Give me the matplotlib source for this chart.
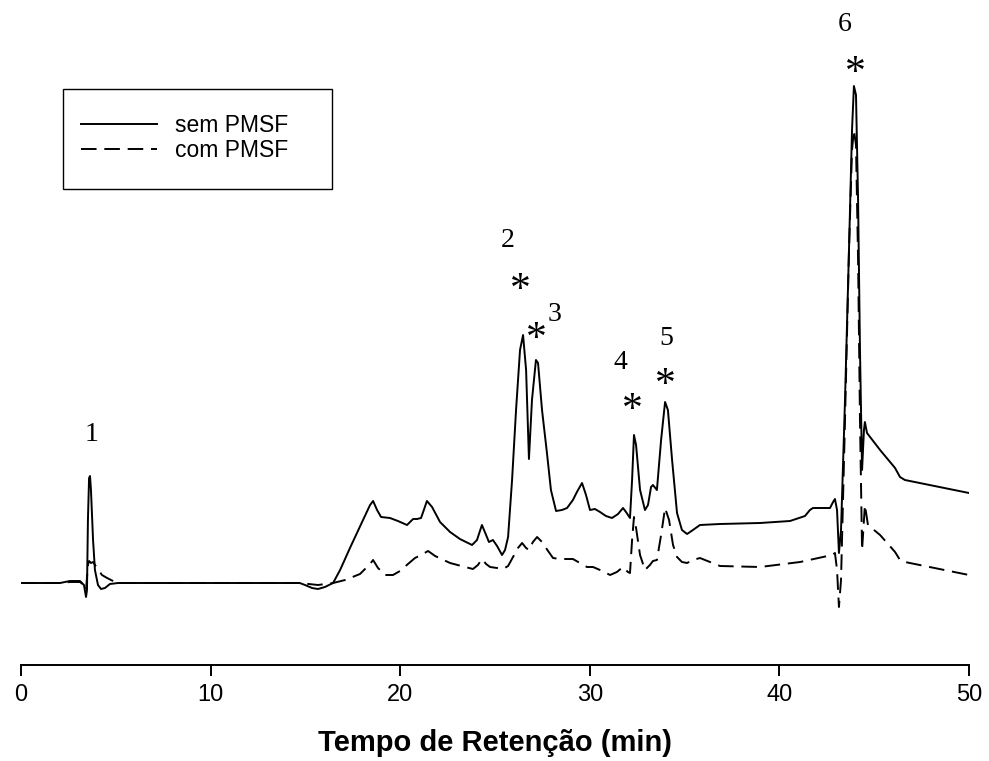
import numpy as np
import matplotlib
matplotlib.use("Agg")
import matplotlib.pyplot as plt
from matplotlib.patches import Rectangle

# ---------------- data ----------------
# retention time (min) and detector response (arbitrary units) - sem PMSF
time_sem = [0.00, 2.06, 2.58, 3.11, 3.32, 3.43, 3.48, 3.53, 3.59, 3.64, 3.69, 3.80, 3.90,
            4.06, 4.22, 4.43, 4.69, 5.12, 14.70, 14.98, 15.35, 15.66, 16.03, 16.46, 16.83,
            17.35, 17.99, 18.41, 18.57, 18.78, 18.99, 19.46, 19.88, 20.36, 20.68, 20.89,
            21.10, 21.41, 21.68, 22.10, 22.63, 23.15, 23.79, 24.05, 24.31, 24.53, 24.68,
            24.89, 25.11, 25.37, 25.53, 25.69, 25.90, 26.11, 26.32, 26.48, 26.64, 26.79,
            26.95, 27.16, 27.27, 27.48, 27.74, 27.95, 28.22, 28.53, 28.80, 29.11, 29.32,
            29.59, 29.80, 30.01, 30.27, 30.54, 30.85, 31.17, 31.49, 31.75, 31.91, 32.12,
            32.23, 32.33, 32.44, 32.65, 32.91, 33.07, 33.23, 33.33, 33.54, 33.76, 33.97,
            34.12, 34.34, 34.60, 34.86, 35.13, 35.44, 35.81, 36.87, 38.98, 40.56, 41.35,
            41.61, 41.77, 42.67, 42.83, 42.93, 43.04, 43.14, 43.25, 43.46, 43.67, 43.83,
            43.93, 44.04, 44.15, 44.25, 44.36, 44.46, 44.51, 44.62, 45.31, 46.10, 46.36,
            46.62, 50.00]
abs_sem = [0, 0, 2, 2, -2, -14, -7, 63, 105, 107, 93, 43, 13,
           -2, -6, -5, -1, 0, 0, -2, -5, -6, -4, 0, 13,
           35, 61, 78, 82, 73, 66, 65, 62, 58, 64, 64,
           65, 82, 76, 61, 51, 44, 38, 43, 58, 48, 41,
           43, 37, 28, 33, 46, 103, 173, 233, 248, 213, 124,
           183, 223, 220, 173, 130, 93, 72, 73, 75, 83, 91,
           100, 88, 73, 74, 71, 67, 65, 69, 75, 71, 65,
           103, 148, 138, 93, 73, 78, 96, 98, 93, 143, 181,
           173, 123, 70, 53, 49, 53, 58, 59, 60, 62, 67,
           73, 75, 75, 81, 84, 73, 30, 53, 183, 333, 453,
           497, 488, 383, 233, 113, 153, 161, 150, 133, 115, 106,
           103, 90]

# retention time (min) and detector response (arbitrary units) - com PMSF
time_com = [0.00, 2.06, 2.58, 3.11, 3.32, 3.43, 3.53, 3.59, 3.69, 3.80, 4.01, 4.27, 4.54,
            4.96, 5.22, 14.70, 15.66, 16.46, 17.09, 17.88, 18.41, 18.57, 18.83, 19.20,
            19.62, 19.99, 20.41, 20.78, 21.10, 21.47, 21.84, 22.63, 23.42, 23.84, 24.10,
            24.31, 24.53, 24.74, 25.11, 25.42, 25.69, 25.95, 26.21, 26.43, 26.64, 26.79,
            27.00, 27.22, 27.48, 27.80, 28.06, 28.43, 28.85, 29.11, 29.48, 29.85, 30.17,
            30.54, 31.07, 31.43, 31.75, 32.01, 32.12, 32.23, 32.33, 32.44, 32.65, 32.91,
            33.17, 33.33, 33.54, 33.76, 33.97, 34.18, 34.39, 34.60, 34.86, 35.13, 35.44,
            35.81, 36.87, 38.98, 41.09, 42.78, 42.93, 43.04, 43.14, 43.25, 43.46, 43.67,
            43.83, 43.93, 44.04, 44.15, 44.25, 44.36, 44.51, 44.67, 45.31, 46.10, 46.36,
            46.62, 50.00]
abs_com = [0, 0, 1, 1, -2, -7, 18, 22, 20, 21, 15, 8, 5,
           1, 0, 0, -2, 0, 3, 9, 19, 23, 15, 8,
           8, 12, 19, 25, 28, 32, 27, 20, 16, 14, 18,
           24, 19, 16, 15, 14, 17, 26, 35, 40, 35, 33,
           41, 46, 41, 32, 25, 24, 24, 24, 20, 16, 16,
           13, 8, 11, 16, 11, 10, 43, 66, 55, 28, 13,
           18, 22, 23, 48, 75, 63, 38, 26, 21, 20, 23,
           25, 17, 16, 21, 28, 30, 13, -24, 3, 163, 333,
           433, 453, 438, 323, 163, 33, 78, 58, 48, 31, 23,
           21, 8]

series_labels = ["sem PMSF", "com PMSF"]
x_ticks = [0, 10, 20, 30, 40, 50]
x_label = "Tempo de Retenção (min)"

# peak annotations: label, approximate retention time, asterisk shown
peak_labels = ["1", "2", "3", "4", "5", "6"]
peak_times = [3.6, 26.5, 27.2, 32.3, 34.0, 43.9]
peak_marked = [False, True, True, True, True, True]

# ---------------- figure ----------------
W, H = 989, 761
fig = plt.figure(figsize=(W / 100, H / 100), dpi=100)
ax = fig.add_axes([21 / W, (H - 665) / H, 948 / W, 665 / H])

ax.plot(time_sem, abs_sem, color="black", lw=1.4, solid_joinstyle="round",
        label=series_labels[0])
ax.plot(time_com, abs_com, color="black", lw=1.4, linestyle=(0, (8, 4)),
        label=series_labels[1])

ax.set_xlim(0, 50)
ax.set_ylim(-82, 583)
for s in ["left", "right", "top"]:
    ax.spines[s].set_visible(False)
ax.spines["bottom"].set_linewidth(1.4)
ax.set_yticks([])
ax.set_xticks(x_ticks)
ax.tick_params(axis="x", direction="out", length=8, width=1.4, pad=6,
               labelsize=17)
for lab in ax.get_xticklabels():
    lab.set_fontfamily("Liberation Sans")
ax.set_xlabel(x_label, fontsize=21, fontweight="bold", family="Liberation Sans",
              labelpad=16)

# peak labels (offsets in points relative to the peak top)
star_off = {"2": (-2, 35), "3": (0, 18), "4": (-1, 21), "5": (0, 15), "6": (1, 12)}
num_off = {"1": (1, 30), "2": (-11, 68), "3": (13, 33), "4": (-10, 52),
           "5": (1, 46), "6": (-7, 44)}
t_arr = np.array(time_sem)
a_arr = np.array(abs_sem)
for lab, pt, mk in zip(peak_labels, peak_times, peak_marked):
    win = (t_arr > pt - 0.3) & (t_arr < pt + 0.3)
    idx = np.argmax(np.where(win, a_arr, -np.inf))
    px, py = t_arr[idx], a_arr[idx]
    ax.annotate(lab, (px, py), xytext=num_off[lab], textcoords="offset points",
                ha="center", va="center", fontsize=20, family="Liberation Serif")
    if mk:
        ax.annotate("*", (px, py), xytext=star_off[lab], textcoords="offset points",
                    ha="center", va="center_baseline", fontsize=30,
                    family="Liberation Serif")

# legend: box drawn separately so its padding matches the reference
box = Rectangle((63 / W, 1 - 189 / H), (332 - 63) / W, 100 / H,
                transform=fig.transFigure, fill=False, edgecolor="black", lw=1.0)
fig.patches.append(box)
leg = ax.legend(loc="center left", bbox_to_anchor=(81 / W, 1 - 138 / H),
                bbox_transform=fig.transFigure, frameon=False,
                handlelength=3.3, handletextpad=0.8, borderpad=0,
                labelspacing=0.12, borderaxespad=0,
                prop={"family": "Liberation Sans", "size": 16.5})

fig.savefig("out.png", dpi=100)
